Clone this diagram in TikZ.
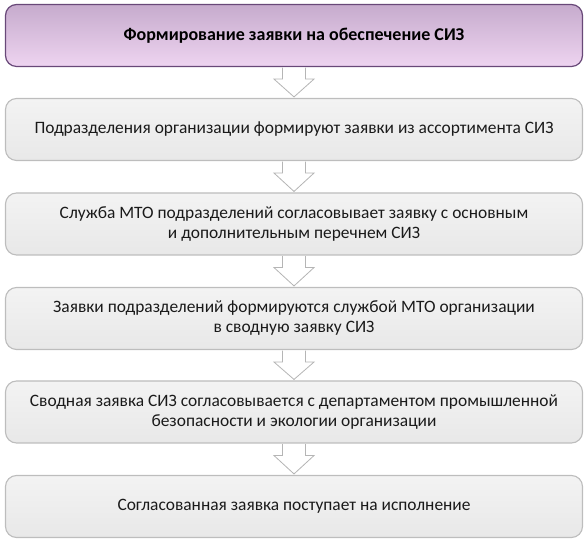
\documentclass[tikz,border=0pt]{standalone}
\usepackage{fontspec}
\setmainfont{Carlito}
\usetikzlibrary{calc}
\definecolor{boxborder}{HTML}{BDBDBD}
\definecolor{boxtop}{HTML}{F3F3F3}
\definecolor{boxbot}{HTML}{E8E8E8}
\definecolor{ttop}{HTML}{C6ABCD}
\definecolor{tmid}{HTML}{9C76AB}
\definecolor{tbot}{HTML}{EED4F0}
\definecolor{tborder}{HTML}{684878}
\definecolor{arrowborder}{HTML}{B5B5B5}
\definecolor{txt}{HTML}{1A1A1A}
\tikzset{
  stepbox/.style={draw=boxborder, line width=1.1pt, rounded corners=11pt,
    top color=boxtop, bottom color=boxbot, minimum width=577pt, minimum height=62pt,
    align=center, font=\fontsize{17.4}{20}\selectfont, text=txt, inner sep=0pt},
  titlebox/.style={draw=tborder, line width=1.2pt, rounded corners=11pt,
    top color=ttop, middle color=tmid, bottom color=tbot, minimum width=577pt, minimum height=62pt,
    align=center, font=\fontsize{18}{21}\selectfont\bfseries, text=black, inner sep=0pt},
  blockarrow/.style={draw=arrowborder, fill=white, line width=0.8pt, line join=miter}
}
\newcommand{\blockarr}[2]{%
  \draw[blockarrow] ($(#1.south)+(-11.5,-0.6)$) -- ($(#1.south)+(-11.5,-12)$) -- ($(#1.south)+(-20,-12)$)
    -- ($(#2.north)+(0,1)$) -- ($(#1.south)+(20,-12)$) -- ($(#1.south)+(11.5,-12)$) -- ($(#1.south)+(11.5,-0.6)$);}
\begin{document}
\begin{tikzpicture}[x=1pt,y=1pt]
\useasboundingbox (0,0) rectangle (588,545);
\node[titlebox] (b1) at (294,509.5) {Формирование заявки на обеспечение СИЗ};
\node[stepbox] (b2) at (294,415.5) {Подразделения организации формируют заявки из ассортимента СИЗ};
\node[stepbox] (b3) at (294,321) {Служба МТО подразделений согласовывает заявку с основным\\и дополнительным перечнем СИЗ};
\node[stepbox] (b4) at (294,226.5) {Заявки подразделений формируются службой МТО организации\\в сводную заявку СИЗ};
\node[stepbox] (b5) at (294,133) {Сводная заявка СИЗ согласовывается с департаментом промышленной\\безопасности и экологии организации};
\node[stepbox] (b6) at (294,38.5) {Согласованная заявка поступает на исполнение};
\blockarr{b1}{b2}
\blockarr{b2}{b3}
\blockarr{b3}{b4}
\blockarr{b4}{b5}
\blockarr{b5}{b6}
\end{tikzpicture}
\end{document}
